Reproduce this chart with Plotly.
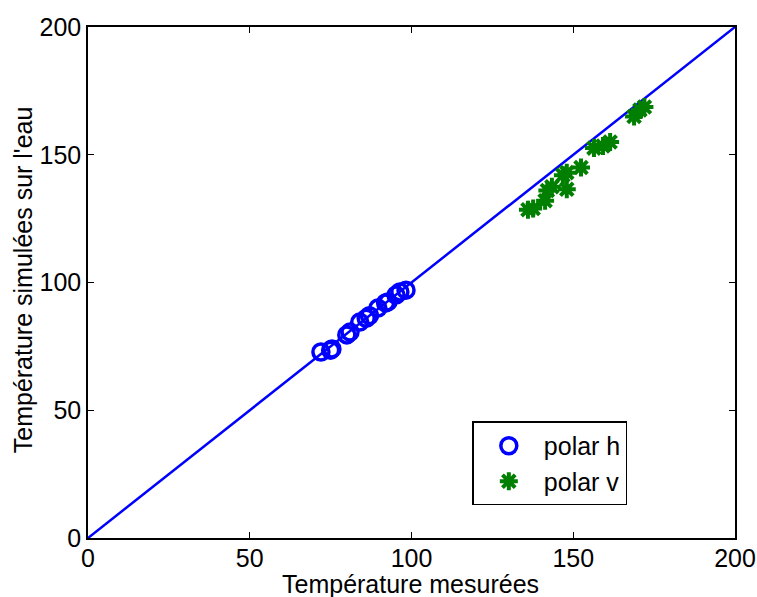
import plotly.graph_objects as go

h_x = [72, 75, 75.4, 80, 81, 84, 86, 87, 89.6, 92, 92.7, 95.2, 96.4, 98.3]
h_y = [72.8, 73.5, 74, 79.5, 80.6, 84.5, 86, 87, 90, 92, 92.4, 95.1, 96.3, 97]

v_x = [136, 137.6, 141.3, 142, 143.4, 148, 146.8, 148, 152.4, 156.4, 159.2, 161.4, 168.8, 170.6, 172]
v_y = [128.5, 129, 132, 136, 137.5, 136.5, 142, 143, 145, 152.6, 153.4, 155, 165, 167.5, 168.7]

line_x = [0, 200]
line_y = [0, 200]

x_title = "Température mesurées"
y_title = "Température simulées sur l'eau"

FONT = "Liberation Sans, Arial, sans-serif"

fig = go.Figure()
fig.add_trace(go.Scatter(x=line_x, y=line_y, mode="lines", line=dict(color="#0000ff", width=2.5),
                         showlegend=False, hoverinfo="skip", cliponaxis=False))
fig.add_trace(go.Scatter(x=h_x, y=h_y, mode="markers", name="polar h",
                         marker=dict(symbol="circle-open", size=16, color="#0000ff", line=dict(width=3.5, color="#0000ff"))))
fig.add_trace(go.Scatter(x=v_x, y=v_y, mode="markers", name="polar v",
                         marker=dict(symbol="asterisk-open", size=15, color="#007f00", line=dict(width=4, color="#007f00"))))

axis_common = dict(range=[0, 200], tickvals=[0, 50, 100, 150, 200], ticks="inside", ticklen=6,
                   tickcolor="black", showline=True, linecolor="black", linewidth=1.5, mirror="ticks",
                   showgrid=False, zeroline=False, automargin=False, ticklabeloverflow="allow",
                   tickfont=dict(family=FONT, size=25, color="black"))

fig.update_layout(
    width=757, height=597,
    margin=dict(l=88, r=22, t=27, b=59),
    plot_bgcolor="white", paper_bgcolor="white",
    font=dict(family=FONT, size=25, color="black"),
    xaxis=dict(**axis_common, ticklabelstandoff=-3),
    yaxis=dict(**axis_common),
    legend=dict(x=0.594, y=0.228, xanchor="left", yanchor="top", bgcolor="white",
                bordercolor="black", borderwidth=1.5, font=dict(size=25), itemwidth=60, entrywidth=140),
    annotations=[
        dict(text=x_title, xref="paper", yref="paper", x=0.498, y=-0.090, xanchor="center", yanchor="middle",
             showarrow=False, font=dict(family=FONT, size=25, color="black")),
        dict(text=y_title, xref="paper", yref="paper", x=-0.100, y=0.505, xanchor="center", yanchor="middle",
             textangle=-90, showarrow=False, font=dict(family=FONT, size=25, color="black")),
    ],
)

fig.write_html("out.html", config={"displayModeBar": False},
               post_script="document.body.style.margin='0';")
